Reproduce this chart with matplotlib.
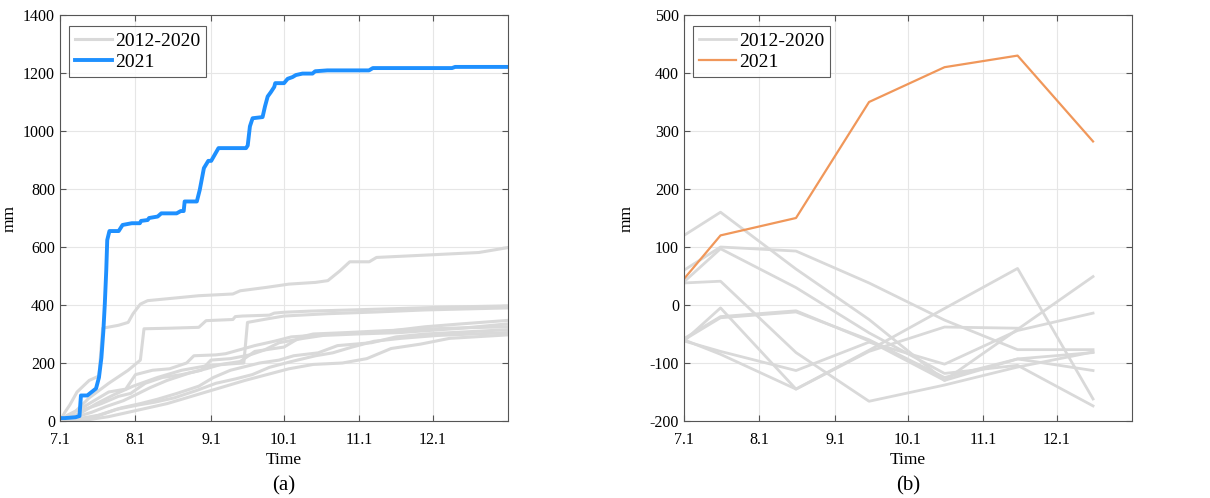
import matplotlib
matplotlib.use("Agg")
import matplotlib.pyplot as plt
import numpy as np

plt.rcParams['font.family'] = ['Liberation Serif', 'DejaVu Serif']
plt.rcParams['axes.unicode_minus'] = False

# ---- (a) cumulative rainfall, days counted from 1 July ----
days_2021 = [0, 2, 6.4, 8, 8.6, 11.2, 13, 14.8, 16, 17, 17.8, 18.4, 19, 19.4, 20.3, 24.1, 25.7, 29.5,
             32.8, 33.3, 36, 36.6, 40.1, 41.6, 47.9, 49.6, 50.8, 51.2, 56.2, 57.4, 59.1, 60.9, 62.1,
             65.1, 76.4, 77.1, 78, 79.1, 83.2, 84.2, 85.3, 86.6, 88, 88.4, 92, 93.5, 95.5, 96.9,
             99.6, 103.7, 104.8, 109.8, 126.9, 128.5, 161, 162.3, 184]
rain_2021 = [10, 10, 13, 17, 88, 88, 100, 112, 150, 218, 310, 403, 520, 624, 655, 655, 676, 682,
             682, 690, 693, 700, 705, 716, 716, 724, 724, 757, 757, 797, 872, 897, 897,
             941, 941, 950, 1016, 1044, 1048, 1085, 1119, 1134, 1152, 1165, 1165, 1180, 1186, 1193,
             1198, 1198, 1206, 1209, 1209, 1217, 1217, 1221, 1221]

hist_days = [
    [0, 2, 4, 7, 12, 16, 17.5, 24, 28, 30, 33, 36, 57, 71, 74, 85, 94, 105, 110, 115, 119, 127, 130, 145, 172, 184],
    [0, 6, 12, 20, 28, 33, 34.5, 45, 57, 60, 71, 72, 75, 86, 88, 92, 103, 120, 140, 160, 184],
    [0, 8, 15, 22, 30, 40, 50, 60, 70, 75.5, 77, 85, 92, 110, 130, 150, 184],
    [0, 3, 9, 14, 20, 27, 31, 38, 45, 52, 55, 64, 68, 80, 88, 95, 112, 125, 135, 150, 165, 184],
    [0, 5, 10, 17, 24, 29, 35, 42, 50, 58, 62, 70, 78, 84, 90, 100, 108, 122, 140, 148, 165, 184],
    [0, 7, 13, 19, 26, 31, 37, 44, 53, 60, 66, 74, 80, 92, 99, 104, 118, 130, 144, 160, 184],
    [0, 10, 18, 25, 33, 40, 48, 57, 63, 70, 82, 90, 96, 106, 114, 128, 138, 150, 184],
    [0, 9, 16, 23, 32, 39, 47, 56, 64, 72, 79, 86, 95, 105, 112, 120, 129, 140, 155, 184],
    [0, 12, 20, 28, 36, 44, 52, 60, 68, 76, 85, 94, 104, 116, 126, 136, 148, 160, 184],
]
hist_rain = [
    [0, 30, 55, 100, 140, 155, 320, 330, 340, 370, 403, 415, 432, 438, 449, 461, 472, 478, 484, 518, 549, 549, 564, 570, 581, 598],
    [0, 30, 80, 130, 175, 210, 318, 320, 323, 346, 350, 360, 362, 365, 372, 375, 379, 383, 388, 393, 397],
    [0, 25, 60, 90, 120, 150, 175, 190, 197, 200, 340, 352, 362, 370, 376, 383, 390],
    [0, 20, 45, 70, 100, 110, 160, 175, 180, 200, 225, 228, 232, 260, 275, 290, 300, 305, 310, 325, 335, 347],
    [0, 10, 40, 60, 85, 95, 130, 150, 160, 175, 210, 215, 228, 245, 270, 285, 295, 300, 305, 310, 320, 335],
    [0, 15, 30, 50, 70, 90, 115, 140, 165, 180, 195, 205, 240, 255, 290, 300, 305, 310, 315, 320, 325],
    [0, 5, 25, 45, 60, 75, 95, 120, 150, 175, 200, 210, 225, 235, 260, 270, 290, 300, 315],
    [0, 10, 20, 40, 55, 65, 80, 105, 130, 145, 160, 185, 205, 225, 235, 255, 275, 285, 295, 305],
    [0, 5, 15, 30, 45, 60, 80, 100, 120, 140, 160, 180, 195, 200, 215, 250, 265, 285, 297],
]

# ---- (b) monthly anomaly ----
anom_days = [0, 15, 46, 76, 107, 137, 168]
anom_2021 = [45, 120, 150, 350, 410, 430, 282]
anom_hist = [
    [120, 160, 62, -25, -130, -42, 49],
    [60, 100, 93, 38, -26, -77, -77],
    [40, 97, 30, -48, -118, -104, -174],
    [38, 41, -82, -166, -138, -107, -81],
    [-62, -5, -145, -80, -38, -40, np.nan],
    [-58, -20, -10, -62, -130, -93, -113],
    [-62, -80, -113, -64, -102, -44, -14],
    [-60, -85, -145, -78, -6, 63, -162],
    [-60, -22, -12, -60, -125, -93, -82],
]

month_ticks = [0, 31, 62, 92, 123, 153]
month_labels = ['7.1', '8.1', '9.1', '10.1', '11.1', '12.1']

gray = '#d9d9d9'
blue = '#1e90ff'
orange = '#f0975a'

fig = plt.figure(figsize=(12.1, 4.98), dpi=100)
ax1 = fig.add_axes([60 / 1210, 77 / 498, 448 / 1210, 406 / 498])
ax2 = fig.add_axes([684 / 1210, 77 / 498, 448 / 1210, 406 / 498])


def style_axis(ax, ylab_x):
    ax.set_xlim(0, 184)
    ax.set_xticks(month_ticks)
    ax.set_xticklabels(month_labels)
    ax.grid(True, color='#e6e6e6', linewidth=0.8)
    ax.set_axisbelow(True)
    ax.tick_params(direction='in', top=True, right=True, labelsize=11.5, length=4,
                   color='#555555', width=0.8)
    ax.tick_params(axis='x', pad=8)
    for sp in ax.spines.values():
        sp.set_color('#555555')
        sp.set_linewidth(0.8)
    ax.set_xlabel('Time', fontsize=12.5, labelpad=3)
    ax.set_ylabel('mm', fontsize=12.5)
    ax.yaxis.set_label_coords(ylab_x, 0.5)


for i, (d, r) in enumerate(zip(hist_days, hist_rain)):
    ax1.plot(d, r, color=gray, linewidth=2.2, label='2012-2020' if i == 0 else None)
ax1.plot(days_2021, rain_2021, color=blue, linewidth=2.8, label='2021')
ax1.set_ylim(0, 1400)
ax1.set_yticks(np.arange(0, 1401, 200))
style_axis(ax1, -0.095)

for i, a in enumerate(anom_hist):
    ax2.plot(anom_days, a, color=gray, linewidth=2.0, label='2012-2020' if i == 0 else None)
ax2.plot(anom_days, anom_2021, color=orange, linewidth=1.6, label='2021')
ax2.set_ylim(-200, 500)
ax2.set_yticks(np.arange(-200, 501, 100))
style_axis(ax2, -0.11)

for ax in (ax1, ax2):
    leg = ax.legend(loc='upper left', bbox_to_anchor=(0.012, 0.982), fontsize=14,
                    frameon=True, fancybox=False, handlelength=1.9, handletextpad=0.15,
                    borderpad=0.3, labelspacing=0.2, borderaxespad=0.2)
    leg.get_frame().set_edgecolor('#333333')
    leg.get_frame().set_linewidth(0.8)

fig.text(284 / 1210, 1 - 486 / 498, '(a)', ha='center', va='center', fontsize=15)
fig.text(908 / 1210, 1 - 486 / 498, '(b)', ha='center', va='center', fontsize=15)

fig.savefig('out.png', dpi=100)
